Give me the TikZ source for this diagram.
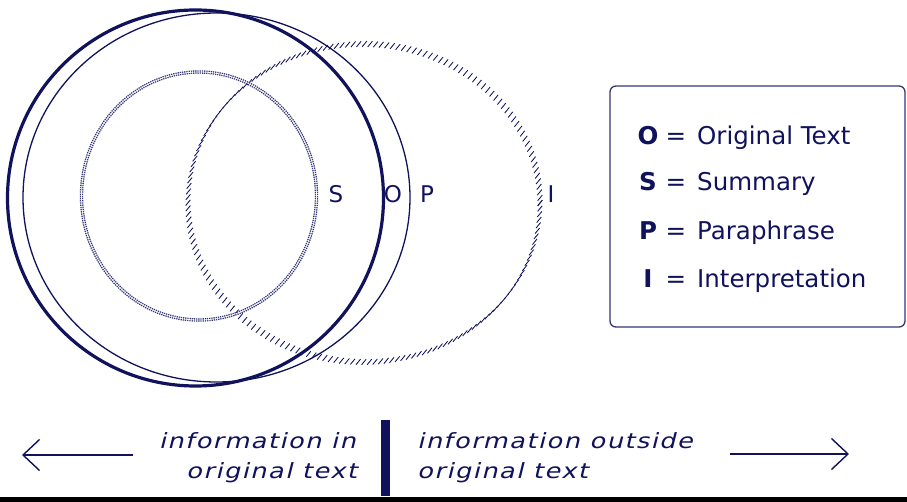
\documentclass[tikz,border=0pt]{standalone}
\usepackage{fontspec}
\setmainfont{DejaVu Sans}
\newfontfamily\infofont[LetterSpace=7,FakeStretch=1.22,FakeSlant=0.25]{DejaVu Sans}
\usetikzlibrary{arrows.meta,decorations.markings}
\definecolor{inkblue}{RGB}{16,18,92}
\begin{document}
\begin{tikzpicture}[x=1pt,y=-1pt,inkblue,
        hatch/.style={decorate,decoration={markings,
            mark=between positions 0 and 1 step 5.6pt with
            {\pgftransformresetnontranslations
             \draw[inkblue,line width=0.85pt] (-2.3pt,-2.8pt)--(2.3pt,2.8pt);}}},
        lbl/.style={font=\fontsize{23}{23}\selectfont,inner sep=0pt,anchor=base},
        legendtxt/.style={font=\fontsize{24.5}{25}\selectfont,inner sep=0pt},
        info/.style={font=\infofont\fontsize{21}{30}\selectfont,inner sep=0pt},
        barb/.style={-{Straight Barb[length=16.5pt,width=31pt]},line width=1.4pt}]
        \useasboundingbox (0,0) rectangle (907,502);
        \def\sumpath{(199,196) ellipse [x radius=117.5,y radius=124]}
        %\draw[gray!30] (0,0) grid[step=50] (907,502);
        % interpretation
        \path[hatch] (364,203) ellipse [x radius=176,y radius=159];
        % summary
        \draw[inkblue!85,line width=3.4pt,dash pattern=on 1.3pt off 0.9pt] \sumpath;
        \draw[white,line width=0.7pt] \sumpath;
        % original text and paraphrase
        \draw[line width=3.2pt] (195.5,198) circle [radius=188];
        \draw[line width=1.3pt] (216.5,197.5) ellipse [x radius=193.5,y radius=184.5];
        \foreach \n/\x in {S/336,O/393,P/427,I/551}
        \node[lbl] (lab\n) at (\x,203) {\n};
        % legend
        \draw[inkblue!85,line width=1.3pt,rounded corners=6pt] (610,86) rectangle (905,327);
        \foreach \n/\t/\y in {O/Original Text/145,S/Summary/191,P/Paraphrase/240,I/Interpretation/288}{
            \node[legendtxt,anchor=base] (key\n) at (648,\y) {\bfseries\n};
            \node[legendtxt,anchor=base] (eq\n) at (676,\y) {=};
            \node[legendtxt,anchor=base west] (def\n) at (697,\y) {\t};
        }
        % bottom strip
        \node[info,anchor=base east] (inA) at (356,448) {information in};
        \node[info,anchor=base east] (inB) at (357,478) {original text};
        \node[info,anchor=base west] (outA) at (417,448) {information outside};
        \node[info,anchor=base west] (outB) at (417,478) {original text};
        \fill (381,420) rectangle (390,496);
        \fill[black] (0,497) rectangle (907,502);
        \coordinate (inTail) at (133,455);
        \coordinate (inTip) at (22,455);
        \coordinate (outTail) at (730,454);
        \coordinate (outTip) at (849,454);
        \draw[barb] (inTail) -- (inTip);
        \draw[barb] (outTail) -- (outTip);
\end{tikzpicture}
\end{document}
